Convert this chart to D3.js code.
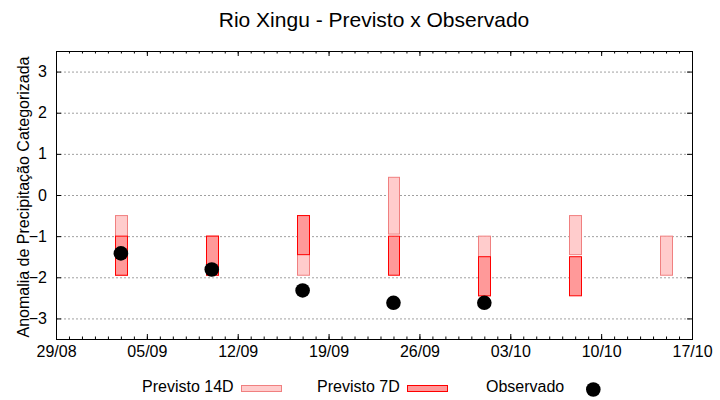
<!DOCTYPE html>
<html>
<head>
<meta charset="utf-8">
<script src="https://cdn.jsdelivr.net/npm/d3@7"></script>
<style>
  body { margin: 0; background: #fff; }
  svg { display: block; font-family: "Liberation Sans", Arial, sans-serif; }
</style>
</head>
<body>
<svg id="chart" width="720" height="400"></svg>
<script>
// ---- data ----
const title = "Rio Xingu - Previsto x Observado";
const yLabel = "Anomalia de Precipitação Categorizada";
const dates = ["2021-09-03", "2021-09-10", "2021-09-17", "2021-09-24", "2021-10-01", "2021-10-08", "2021-10-15"];
const p14Top = [-0.5, -1.0, -0.5, 0.43, -1.0, -0.5, -1.0];
const p14Bot = [-1.95, -1.95, -1.95, -0.95, -2.45, -1.45, -1.95];
const p7Top = [-1.0, -1.0, -0.5, -1.0, -1.5, -1.5, null];
const p7Bot = [-1.95, -1.95, -1.45, -1.95, -2.45, -2.45, null];
const observed = [-1.42, -1.81, -2.32, -2.62, -2.62, null, null];
const xDomain = ["2021-08-29", "2021-10-17"];
const yTicks = [-3, -2, -1, 0, 1, 2, 3];
const legendLabels = ["Previsto 14D", "Previsto 7D", "Observado"];

// ---- layout ----
const L = 56, R = 692, T = 51, B = 339;
const parse = d3.utcParse("%Y-%m-%d");
const svg = d3.select("#chart");

const x = d3.scaleUtc().domain(xDomain.map(parse)).range([L, R]);
const y = d3.scaleLinear().domain([-3.5, 3.5]).range([B, T]);
const fmt = d3.utcFormat("%d/%m");
const xStart = parse(xDomain[0]), xStop = d3.utcDay.offset(parse(xDomain[1]), 1);
const weekTicks = d3.utcDay.range(xStart, xStop, 7);
const dayTicks = d3.utcDay.range(xStart, xStop);

// title
svg.append("text").attr("x", (L + R) / 2).attr("y", 27).attr("text-anchor", "middle")
  .attr("font-size", 21).attr("fill", "#000").text(title);

// grid
svg.append("g").selectAll("line").data(yTicks).join("line")
  .attr("x1", L).attr("x2", R).attr("y1", d => y(d) + 0.5).attr("y2", d => y(d) + 0.5)
  .attr("stroke", "#a0a0a0").attr("stroke-width", 1).attr("stroke-dasharray", "2,2");

// axes
function styleAxis(g) {
  g.select(".domain").remove();
  g.selectAll("line").attr("stroke", "#000");
  g.selectAll("text").attr("font-size", 16).attr("fill", "#000").attr("font-family", "Liberation Sans, Arial, sans-serif");
}
svg.append("g").attr("transform", `translate(0,${B})`)
  .call(d3.axisBottom(x).tickValues(dayTicks).tickSize(-2.5).tickFormat(""))
  .call(styleAxis);
svg.append("g").attr("transform", `translate(0,${T})`)
  .call(d3.axisTop(x).tickValues(dayTicks).tickSize(-2.5).tickFormat(""))
  .call(styleAxis);
svg.append("g").attr("transform", `translate(0,${B})`)
  .call(d3.axisBottom(x).tickValues(weekTicks).tickSize(-5).tickPadding(7).tickFormat(fmt))
  .call(styleAxis);
svg.append("g").attr("transform", `translate(0,${T})`)
  .call(d3.axisTop(x).tickValues(weekTicks).tickSize(-5).tickFormat(""))
  .call(styleAxis);
svg.append("g").attr("transform", `translate(${L},0)`)
  .call(d3.axisLeft(y).tickValues(yTicks).tickSize(-5).tickPadding(9).tickFormat(d3.format("d")))
  .call(styleAxis);
svg.append("g").attr("transform", `translate(${R},0)`)
  .call(d3.axisRight(y).tickValues(yTicks).tickSize(-5).tickFormat(""))
  .call(styleAxis);

// y label
svg.append("text").attr("transform", `translate(29,197) rotate(-90)`).attr("text-anchor", "middle")
  .attr("font-size", 16).attr("fill", "#000").text(yLabel);

// bars
const half = 11 * 3600 * 1000;
const rows = dates.map((d, i) => ({
  date: parse(d), t14: p14Top[i], b14: p14Bot[i], t7: p7Top[i], b7: p7Bot[i], obs: observed[i]
}));
const c14 = { fill: "#ffcccc", stroke: "#f08080" };
const c7 = { fill: "#ff9999", stroke: "#ff0000" };

svg.append("g").selectAll("rect").data(rows.filter(r => r.t14 != null)).join("rect")
  .attr("x", r => Math.round(x(new Date(+r.date - half))) + 0.5)
  .attr("width", r => Math.round(x(new Date(+r.date + half))) - Math.round(x(new Date(+r.date - half))))
  .attr("y", r => y(r.t14)).attr("height", r => y(r.b14) - y(r.t14))
  .attr("fill", c14.fill).attr("stroke", c14.stroke).attr("stroke-width", 1);

svg.append("g").selectAll("rect").data(rows.filter(r => r.t7 != null)).join("rect")
  .attr("x", r => Math.round(x(new Date(+r.date - half))) + 0.5)
  .attr("width", r => Math.round(x(new Date(+r.date + half))) - Math.round(x(new Date(+r.date - half))))
  .attr("y", r => y(r.t7)).attr("height", r => y(r.b7) - y(r.t7))
  .attr("fill", c7.fill).attr("stroke", c7.stroke).attr("stroke-width", 1);

svg.append("g").selectAll("circle").data(rows.filter(r => r.obs != null)).join("circle")
  .attr("cx", r => x(r.date)).attr("cy", r => y(r.obs)).attr("r", 7.3).attr("fill", "#000");

// frame
svg.append("rect").attr("x", L + 0.5).attr("y", T + 0.5).attr("width", R - L).attr("height", B - T)
  .attr("fill", "none").attr("stroke", "#000").attr("stroke-width", 1);

// legend
const lg = svg.append("g");
lg.append("text").attr("x", 142).attr("y", 392).attr("font-size", 16).text(legendLabels[0]);
lg.append("rect").attr("x", 241.5).attr("y", 385.5).attr("width", 40).attr("height", 6)
  .attr("fill", c14.fill).attr("stroke", c14.stroke);
lg.append("text").attr("x", 317).attr("y", 392).attr("font-size", 16).text(legendLabels[1]);
lg.append("rect").attr("x", 407.5).attr("y", 385.5).attr("width", 40).attr("height", 6)
  .attr("fill", c7.fill).attr("stroke", c7.stroke);
lg.append("text").attr("x", 486).attr("y", 392).attr("font-size", 16).text(legendLabels[2]);
lg.append("circle").attr("cx", 593.3).attr("cy", 389.5).attr("r", 7.3).attr("fill", "#000");
</script>
</body>
</html>
